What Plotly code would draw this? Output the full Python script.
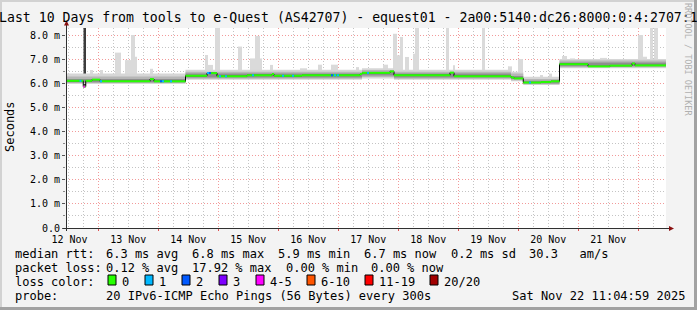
import bisect
import pandas as pd
import plotly.graph_objects as go

# ---------------- data ----------------
START = pd.Timestamp("2025-11-12 11:05:00")
END = pd.Timestamp("2025-11-22 11:05:00")

day_labels = ["12 Nov", "13 Nov", "14 Nov", "15 Nov", "16 Nov",
              "17 Nov", "18 Nov", "19 Nov", "20 Nov", "21 Nov"]
day_label_times = ["2025-11-12 12:30", "2025-11-13 12:00", "2025-11-14 12:00",
                   "2025-11-15 12:00", "2025-11-16 12:00", "2025-11-17 12:00",
                   "2025-11-18 12:00", "2025-11-19 12:00", "2025-11-20 12:00",
                   "2025-11-21 12:00"]

y_tick_values = [0, 1, 2, 3, 4, 5, 6, 7, 8]
y_tick_labels = ["0.0", "1.0 m", "2.0 m", "3.0 m", "4.0 m",
                 "5.0 m", "6.0 m", "7.0 m", "8.0 m"]

# median rtt (ms), step points: hours after graph start
median_hours = [0, 6.9, 7.9, 10.4, 13.6, 33.6, 35.2, 47.8, 56.4, 60.4,
                72.4, 82.4, 83.2, 94.4, 117.6, 118.4, 129.6, 131.2, 153.6, 155.2,
                178.0, 179.2, 182.9, 190.0, 194.0, 197.4, 208.8, 217.6, 226.4, 227.6,
                240.0]
median_ms = [6.10, 5.86, 6.10, 6.15, 6.08, 6.17, 6.08, 6.31, 6.42, 6.29,
             6.33, 6.38, 6.31, 6.33, 6.38, 6.43, 6.49, 6.33, 6.44, 6.29,
             6.24, 6.20, 6.03, 6.05, 6.08, 6.79, 6.70, 6.73, 6.82, 6.74,
             6.74]

# smoke band (ms), step points: outer, middle and core layers
band_hours = [0, 47.8, 118.4, 131.2, 178.0, 182.9, 197.4, 240.0]
band_lo = [5.97, 6.14, 6.20, 6.14, 6.08, 5.93, 6.62, 6.62]
band_hi = [6.40, 6.56, 6.62, 6.56, 6.48, 6.27, 7.00, 7.00]
mid_lo = [6.01, 6.19, 6.26, 6.19, 6.12, 5.96, 6.66, 6.66]
mid_hi = [6.28, 6.48, 6.55, 6.48, 6.40, 6.18, 6.94, 6.94]
core_lo = [6.04, 6.24, 6.32, 6.24, 6.18, 5.99, 6.70, 6.70]
core_hi = [6.18, 6.40, 6.48, 6.40, 6.30, 6.10, 6.86, 6.86]

# smoke spikes: start hour, end hour, top (ms)
spike_start_h = [9.6, 13.6, 19.6, 23.6, 26.0, 27.6, 33.6, 55.6, 56.8, 59.6,
                 68.8, 73.6, 75.6, 77.6, 81.6, 93.6, 100.8, 106.0, 116.0, 126.8,
                 130.8, 132.4, 133.6, 135.6, 138.8, 139.6, 152.0, 154.8, 166.4, 176.8,
                 180.8, 189.6, 193.2, 198.4, 201.6, 213.6, 228.8, 230.8, 233.6, 235.2]
spike_end_h = [10.8, 14.8, 22.0, 26.0, 27.6, 28.4, 34.8, 56.8, 58.8, 61.6,
               70.4, 75.6, 77.6, 78.4, 82.8, 96.4, 102.4, 108.8, 117.2, 128.8,
               132.4, 133.6, 134.8, 137.2, 139.6, 141.2, 153.2, 155.6, 167.6, 178.4,
               182.8, 190.8, 194.4, 200.4, 203.6, 216.4, 230.8, 232.4, 234.8, 236.8]
spike_top_ms = [6.55, 6.55, 7.27, 6.96, 8.00, 7.10, 6.60, 7.17, 6.76, 8.40,
                7.52, 7.03, 7.96, 7.03, 6.76, 6.62, 6.77, 6.77, 6.67, 6.77,
                8.05, 7.16, 7.92, 7.09, 7.22, 8.40, 8.40, 6.75, 8.40, 6.70,
                7.00, 6.34, 6.40, 7.13, 7.03, 7.05, 8.00, 7.10, 8.40, 8.40]

# dark smoke column
dark_start_h = [7.0]
dark_end_h = [8.0]
dark_low_ms = [5.86]
dark_high_ms = [8.40]

# intervals with packet loss: hour, loss-colour index
loss_hours = [5.4, 6.9, 13.6, 37.6, 38.4, 41.6, 56.4, 57.2, 61.2, 63.6,
              74.4, 86.4, 90.4, 106.0, 107.2, 108.4, 120.4, 185.2]
loss_class = [1, 4, 1, 2, 1, 1, 1, 2, 1, 1,
              1, 1, 1, 2, 1, 1, 1, 1]

loss_labels = ["0", "1", "2", "3", "4-5", "6-10", "11-19", "20/20"]
loss_colors = ["#26ff00", "#00b8ff", "#0059ff", "#7e00ff",
               "#ff00ff", "#ff5500", "#ff0000", "#a10000"]

title_text = "Last 10 Days from tools to e-Quest (AS42707) - equest01 - 2a00:5140:dc26:8000:0:4:2707:1"
rtt_stats = ["6.3 ms avg", "6.8 ms max", "5.9 ms min", "6.7 ms now", "0.2 ms sd", "30.3   am/s"]
loss_stats = ["0.12 % avg", "17.92 % max", "0.00 % min", "0.00 % now"]
probe_text = "20 IPv6-ICMP Echo Pings (56 Bytes) every 300s"
stamp_text = "Sat Nov 22 11:04:59 2025"

# ---------------- helpers ----------------
MONO = "DejaVu Sans Mono"
W, H = 697, 310
PL, PR, PT, PB = 66, 666, 28, 228


def T(hs):
    return [START + pd.Timedelta(hours=h) for h in hs]


def median_at(h):
    i = bisect.bisect_right(median_hours, h) - 1
    return median_ms[max(i, 0)]


def px(x):
    return (x - PL) / (PR - PL)


def py(y):
    return (PB - y) / (PB - PT)


fig = go.Figure()

# spikes (light smoke)
sp_mid = [(s + e) / 2 for s, e in zip(spike_start_h, spike_end_h)]
sp_base = [median_at(m) for m in sp_mid]
fig.add_trace(go.Bar(
    x=T(sp_mid), y=[t - b for t, b in zip(spike_top_ms, sp_base)], base=sp_base,
    width=[(e - s) * 3600000 for s, e in zip(spike_start_h, spike_end_h)],
    marker=dict(color="#dadada", line=dict(width=0)),
    hoverinfo="skip", showlegend=False))

# smoke band layers
for lo, hi, col in [(band_lo, band_hi, "#d6d6d6"), (mid_lo, mid_hi, "#b6b6b6"),
                    (core_lo, core_hi, "#8e8e8e")]:
    fig.add_trace(go.Scatter(x=T(band_hours), y=lo, mode="lines",
                             line=dict(width=0, shape="hv"),
                             hoverinfo="skip", showlegend=False))
    fig.add_trace(go.Scatter(x=T(band_hours), y=hi, mode="lines",
                             line=dict(width=0, shape="hv"), fill="tonexty",
                             fillcolor=col, hoverinfo="skip", showlegend=False))

# dark column
dk_mid = [(s + e) / 2 for s, e in zip(dark_start_h, dark_end_h)]
fig.add_trace(go.Bar(
    x=T(dk_mid), y=[h - l for h, l in zip(dark_high_ms, dark_low_ms)], base=dark_low_ms,
    width=[(e - s) * 3600000 for s, e in zip(dark_start_h, dark_end_h)],
    marker=dict(color="#3c3c3c", line=dict(width=0)),
    hoverinfo="skip", showlegend=False))

# median: black steps underneath, green horizontal segments on top
fig.add_trace(go.Scatter(x=T(median_hours), y=median_ms, mode="lines",
                         line=dict(color="#000000", width=1, shape="hv"),
                         hoverinfo="skip", showlegend=False))
gx, gy = [], []
for i in range(len(median_hours) - 1):
    gx += T([median_hours[i], median_hours[i + 1]]) + [None]
    gy += [median_ms[i], median_ms[i]] + [None]
fig.add_trace(go.Scatter(x=gx, y=gy, mode="lines",
                         line=dict(color=loss_colors[0], width=2),
                         hoverinfo="skip", showlegend=False))

SEG = 0.8
for c in sorted(set(loss_class)):
    lx, ly = [], []
    for h, k in zip(loss_hours, loss_class):
        if k == c:
            v = median_at(h + 0.01)
            lx += T([h, h + SEG]) + [None]
            ly += [v, v, None]
    fig.add_trace(go.Scatter(x=lx, y=ly, mode="lines",
                             line=dict(color=loss_colors[c], width=2),
                             hoverinfo="skip", showlegend=False))

# invisible trace for label axis
fig.add_trace(go.Scatter(x=day_label_times, y=[0] * len(day_label_times), xaxis="x2",
                         mode="markers", marker=dict(opacity=0),
                         hoverinfo="skip", showlegend=False))

MAJ = "#f29a9a"
MIN = "#c4c4c4"
DASH = "1px,2px"

fig.update_layout(
    width=W, height=H, autosize=False,
    margin=dict(l=PL, r=W - PR, t=PT, b=H - PB, pad=0),
    paper_bgcolor="#f3f3f3", plot_bgcolor="#ffffff",
    barmode="overlay", hovermode=False,
    xaxis=dict(type="date", range=[START, END], tick0="2025-11-13 00:00",
               dtick=86400000, showticklabels=False, ticks="outside",
               ticklen=2, tickcolor="#e05050", showgrid=True, gridcolor=MAJ,
               griddash=DASH, gridwidth=1, zeroline=False, showline=False,
               minor=dict(dtick=6 * 3600000, showgrid=True, gridcolor=MIN,
                          griddash=DASH, gridwidth=1)),
    xaxis2=dict(type="date", range=[START, END], overlaying="x", anchor="y",
                side="bottom", tickmode="array", tickvals=day_label_times,
                ticktext=day_labels, showgrid=False, ticks="", zeroline=False,
                showline=False, ticklabelstandoff=4,
                tickfont=dict(family=MONO, size=10, color="#000000")),
    yaxis=dict(range=[0, (PB - PT) / 24.125], tickmode="array",
               tickvals=y_tick_values, ticktext=y_tick_labels,
               showgrid=True, gridcolor=MAJ, griddash=DASH, gridwidth=1,
               ticks="outside", ticklen=3, tickcolor="#555555",
               zeroline=False, showline=False,
               tickfont=dict(family=MONO, size=10, color="#000000"),
               minor=dict(dtick=0.5, showgrid=True, gridcolor=MIN,
                          griddash=DASH, gridwidth=1, ticks="outside",
                          ticklen=2, tickcolor="#888888")),
)

shapes = []
# frame of the picture
shapes.append(dict(type="rect", xref="paper", yref="paper", x0=px(0), x1=px(W), y0=py(0), y1=py(2),
                   fillcolor="#d2d2d2", line=dict(width=0), layer="below"))
shapes.append(dict(type="rect", xref="paper", yref="paper", x0=px(0), x1=px(2), y0=py(0), y1=py(H),
                   fillcolor="#d2d2d2", line=dict(width=0), layer="below"))
shapes.append(dict(type="rect", xref="paper", yref="paper", x0=px(W - 3), x1=px(W), y0=py(0), y1=py(H),
                   fillcolor="#a2a2a2", line=dict(width=0)))
shapes.append(dict(type="rect", xref="paper", yref="paper", x0=px(0), x1=px(W), y0=py(H - 3), y1=py(H),
                   fillcolor="#a2a2a2", line=dict(width=0)))
# axes with arrows
shapes.append(dict(type="line", xref="paper", yref="paper", x0=px(66.5), x1=px(66.5),
                   y0=py(231), y1=py(24), line=dict(color="#303030", width=1)))
shapes.append(dict(type="line", xref="paper", yref="paper", x0=px(63), x1=px(670),
                   y0=py(228.5), y1=py(228.5), line=dict(color="#303030", width=1)))
shapes.append(dict(type="path", xref="paper", yref="paper",
                   path=f"M {px(64)} {py(25.5)} L {px(69)} {py(25.5)} L {px(66.5)} {py(20.5)} Z",
                   fillcolor="#8a1010", line=dict(width=0)))
shapes.append(dict(type="path", xref="paper", yref="paper",
                   path=f"M {px(669)} {py(226)} L {px(669)} {py(231)} L {px(674)} {py(228.5)} Z",
                   fillcolor="#8a1010", line=dict(width=0)))
# legend colour boxes
box_x = [108, 145, 182, 219, 256, 307, 365, 430]
for bx, col in zip(box_x, loss_colors):
    shapes.append(dict(type="rect", xref="paper", yref="paper", x0=px(bx), x1=px(bx + 8),
                       y0=py(285), y1=py(275), fillcolor=col,
                       line=dict(color="#000000", width=1)))
fig.update_layout(shapes=shapes)

ann = []


def text(x, y, s, size=12, color="#000000", anchor="left", angle=0):
    ann.append(dict(x=px(x), y=py(y), xref="paper", yref="paper", text=s,
                    showarrow=False, xanchor=anchor, yanchor="middle",
                    borderpad=0, borderwidth=0, textangle=angle,
                    font=dict(family=MONO, size=size, color=color)))


text(348, 18, title_text, size=13.2, anchor="center")
text(10, 127, "Seconds", size=12, anchor="center", angle=-90)
text(688, 59, "RRDTOOL / TOBI OETIKER", size=8.5, color="#b0b0b0", anchor="center", angle=90)

R1, R2, R3, R4 = 254, 268, 281.5, 296
text(15, R1, "median rtt:")
for x, s in zip([106, 192, 278, 364, 451, 529], rtt_stats):
    text(x, R1, s)
text(15, R2, "packet loss:")
for x, s in zip([106, 192, 286, 371], loss_stats):
    text(x, R2, s)
text(15, R3, "loss color:")
for x, s in zip([122, 159, 196, 233, 270, 321, 379, 444], loss_labels):
    text(x, R3, s)
text(15, R4, "probe:")
text(106, R4, probe_text)
text(512, R4, stamp_text)

fig.update_layout(annotations=ann)
fig.write_html("out.html")
